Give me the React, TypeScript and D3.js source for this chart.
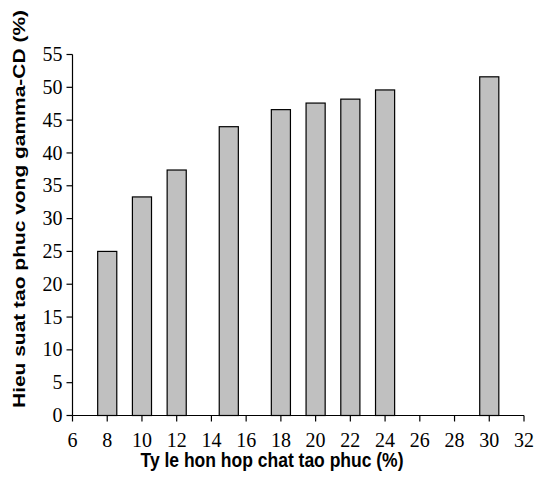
import React from 'react'
import * as d3 from 'd3'

const ratios = [8, 10, 12, 15, 18, 20, 22, 24, 30]
const yields = [25, 33.3, 37.4, 44, 46.6, 47.6, 48.2, 49.6, 51.6]
const xTicks = [6, 8, 10, 12, 14, 16, 18, 20, 22, 24, 26, 28, 30, 32]
const yTicks = [0, 5, 10, 15, 20, 25, 30, 35, 40, 45, 50, 55]

const WIDTH = 535
const HEIGHT = 477
const MARGIN = { top: 54.5, right: 11, bottom: 61.5, left: 72.5 }

const SERIF = '"Liberation Serif", "Times New Roman", "DejaVu Serif", serif'
const SANS = '"Liberation Sans", Arial, sans-serif'

export default function App() {
  const x = d3
    .scaleLinear()
    .domain([6, 32])
    .range([MARGIN.left, WIDTH - MARGIN.right])
  const y = d3
    .scaleLinear()
    .domain([0, 55])
    .range([HEIGHT - MARGIN.bottom, MARGIN.top])

  const barWidth = x(7.1) - x(6)
  const y0 = y(0)

  return (
    <svg
      width={WIDTH}
      height={HEIGHT}
      style={{ position: 'absolute', left: 0, top: 0, background: '#fff' }}
    >
      {ratios.map((r, i) => (
        <rect
          key={r}
          x={x(r) - barWidth / 2}
          y={y(yields[i])}
          width={barWidth}
          height={y0 - y(yields[i])}
          fill="#c0c0c0"
          stroke="#000"
          strokeWidth={1.2}
        />
      ))}

      {/* y axis */}
      <line x1={x(6)} x2={x(6)} y1={y(55)} y2={y0} stroke="#000" strokeWidth={1.2} />
      {yTicks.map((t) => (
        <g key={t}>
          <line x1={x(6) - 6} x2={x(6)} y1={y(t)} y2={y(t)} stroke="#000" strokeWidth={1.2} />
          <text
            x={x(6) - 10}
            y={y(t)}
            dy="0.33em"
            textAnchor="end"
            style={{ fontFamily: SERIF }}
            fontSize={20}
            fill="#000"
          >
            {t}
          </text>
        </g>
      ))}

      {/* x axis */}
      <line x1={x(6)} x2={x(32)} y1={y0} y2={y0} stroke="#000" strokeWidth={1.2} />
      {xTicks.map((t) => (
        <g key={t}>
          <line x1={x(t)} x2={x(t)} y1={y0} y2={y0 + 6} stroke="#000" strokeWidth={1.2} />
          <text
            x={x(t)}
            y={446.5}
            textAnchor="middle"
            style={{ fontFamily: SERIF }}
            fontSize={20}
            fill="#000"
          >
            {t}
          </text>
        </g>
      ))}

      <text
        x={272}
        y={466.5}
        textAnchor="middle"
        textLength={263}
        lengthAdjust="spacingAndGlyphs"
        style={{ fontFamily: SANS }}
        fontWeight="bold"
        fontSize={20}
        fill="#000"
      >
        Ty le hon hop chat tao phuc (%)
      </text>
      <text
        transform="translate(25,209) rotate(-90)"
        textAnchor="middle"
        textLength={398}
        lengthAdjust="spacingAndGlyphs"
        style={{ fontFamily: SANS }}
        fontWeight="bold"
        fontSize={17}
        fill="#000"
      >
        Hieu suat tao phuc vong gamma-CD (%)
      </text>
    </svg>
  )
}
